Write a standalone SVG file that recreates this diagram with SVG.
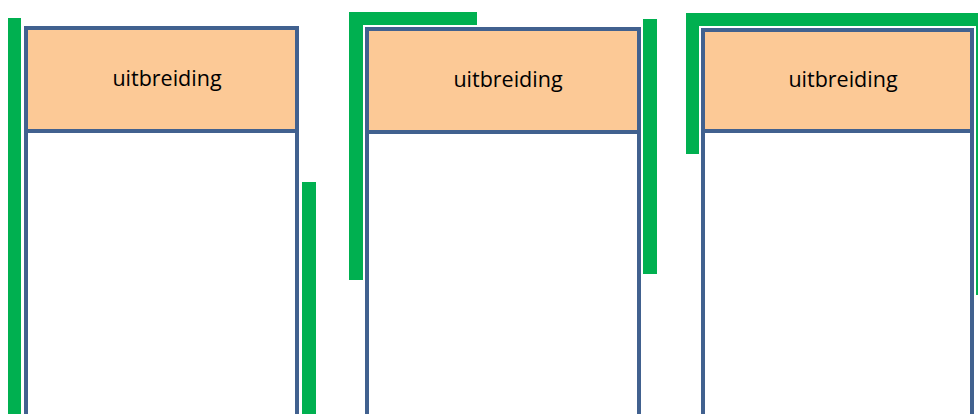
<svg xmlns="http://www.w3.org/2000/svg" width="978" height="414" viewBox="0 0 978 414">
  <style>
    .bar { fill: #00B050; }
    .box { fill: #FFFFFF; stroke: #41618F; stroke-width: 4; }
    .head { fill: #FCC996; stroke: #41618F; stroke-width: 4; }
    .label { font-family: "Open Sans", "Liberation Sans", sans-serif; font-size: 21.5px; fill: #000000; text-anchor: middle; }
  </style>
  <rect width="978" height="414" fill="#FFFFFF"/>

  <!-- green support bars -->
  <g id="bars">
    <rect class="bar" x="8" y="18" width="13" height="400"/>
    <rect class="bar" x="302" y="182" width="14" height="236"/>
    <rect class="bar" x="349" y="12" width="14" height="268"/>
    <rect class="bar" x="349" y="12" width="128" height="13"/>
    <rect class="bar" x="643" y="19" width="14" height="255"/>
    <rect class="bar" x="686" y="13" width="13" height="141"/>
    <rect class="bar" x="686" y="13" width="300" height="13"/>
    <rect class="bar" x="976" y="13" width="14" height="282"/>
  </g>

  <g id="unit1">
    <rect class="box" x="26" y="28" width="271" height="400"/>
    <rect class="head" x="26" y="28" width="271" height="103"/>
    <text class="label" x="167" y="86">uitbreiding</text>
  </g>

  <g id="unit2">
    <rect class="box" x="367" y="29" width="272" height="400"/>
    <rect class="head" x="367" y="29" width="272" height="103"/>
    <text class="label" x="508" y="87">uitbreiding</text>
  </g>

  <g id="unit3">
    <rect class="box" x="703" y="30" width="269" height="400"/>
    <rect class="head" x="703" y="30" width="269" height="101"/>
    <text class="label" x="843" y="87">uitbreiding</text>
  </g>
</svg>
